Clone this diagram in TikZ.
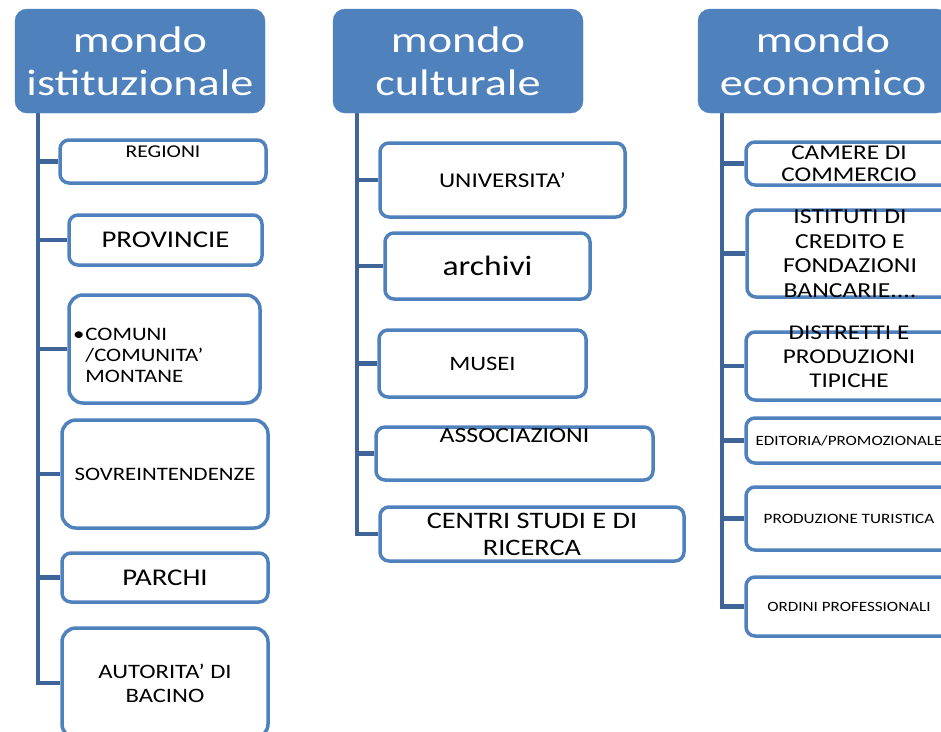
\documentclass[tikz,border=0pt]{standalone}
\usepackage{fontspec}
\setmainfont{Carlito}[FakeStretch=1.2]
\newfontfamily\headfont{Carlito}[FakeStretch=1.25]
\usepackage{xcolor}
\usepackage{tikz}
\usetikzlibrary{positioning, backgrounds}
\definecolor{headblue}{HTML}{4F81BD}
\definecolor{frameblue}{HTML}{4F81BD}
\definecolor{trunkblue}{HTML}{3F6598}
\newcommand{\txtsize}[2]{\fontsize{#1}{#2}\selectfont}

\begin{document}
\begin{tikzpicture}[
    x=1pt, y=-1pt,
    header/.style={
        rectangle, rounded corners=12pt,
        minimum width=250, minimum height=104,
        fill=headblue, draw=headblue, text=white,
        align=center, font=\headfont\txtsize{37}{43}
    },
    itembox/.style={
        rectangle, rounded corners=9pt, inner sep=1pt,
        draw=frameblue, fill=white, line width=3.5pt,
        align=center, text=black
    },
    itemtext/.style={align=center, text=black, inner sep=0pt},
    branch/.style={draw=trunkblue, line width=4.5pt}
]

\clip (0,0) rectangle (941,731);

% mondo istituzionale
\node[header] (h1) at (140,61) {mondo\\istituzionale};

\node[itembox, minimum width=206, minimum height=43] (reg) at (163,161.5) {};
\node[itemtext, font=\txtsize{18}{20}] (reg-t) at ([yshift=9.5]reg.center) {REGIONI};

\node[itembox, minimum width=193, minimum height=50, font=\txtsize{24}{28}] (prov) at (165.5,240) {PROVINCIE};

\node[itembox, rounded corners=14pt, minimum width=191, minimum height=108] (com) at (164.5,349) {};
\node[itemtext, anchor=west, align=left, font=\txtsize{19}{21}] (com-t) at ([xshift=18,yshift=-6]com.west) {\llap{\textbullet\kern1pt}COMUNI\\/COMUNITA’\\MONTANE};

\node[itembox, rounded corners=14pt, minimum width=206, minimum height=108, font=\txtsize{19}{22}] (sov) at (165,474) {SOVREINTENDENZE};

\node[itembox, minimum width=206, minimum height=49, font=\txtsize{24}{28}] (par) at (165,577.5) {PARCHI};

\node[itembox, rounded corners=14pt, minimum width=206, minimum height=110, font=\txtsize{20.5}{24}] (aut) at (165,683) {AUTORITA’ DI\\BACINO};

% mondo culturale
\node[header] (h2) at (458,61) {mondo\\culturale};

\node[itembox, minimum width=245, minimum height=74, font=\txtsize{21}{24}] (uni) at (502.5,180) {UNIVERSITA’};

\node[itembox, minimum width=205, minimum height=66, font=\txtsize{28}{30}] (arc) at (487.5,266) {archivi};

\node[itembox, minimum width=207, minimum height=67, font=\txtsize{20.5}{24}] (mus) at (482.5,363.5) {MUSEI};

\node[itembox, minimum width=277, minimum height=53] (ass) at (514.5,453.5) {};
\node[itemtext, font=\txtsize{21.5}{24}] (ass-t) at ([yshift=17.5]ass.center) {ASSOCIAZIONI};

\node[itembox, minimum width=304, minimum height=54, inner ysep=0pt, font=\txtsize{23.6}{27}] (cen) at (532,534) {CENTRI STUDI E DI\\RICERCA};

% mondo economico
\node[header] (h3) at (823,61) {mondo\\economico};

\node[itembox, minimum width=206, minimum height=43, inner ysep=0pt, font=\txtsize{21}{22}] (cam) at (849,163.5) {CAMERE DI\\COMMERCIO};

\node[itembox, minimum width=206, minimum height=87] (ist) at (850,253.5) {};
\node[itemtext, font=\txtsize{21.4}{24.5}] (ist-t) at (ist.center) {ISTITUTI DI\\CREDITO E\\FONDAZIONI\\BANCARIE....};

\node[itembox, minimum width=206, minimum height=68] (dis) at (849,366) {};
\node[itemtext, font=\txtsize{21}{24}] (dis-t) at ([yshift=9]dis.center) {DISTRETTI E\\PRODUZIONI\\TIPICHE};

\node[itembox, minimum width=206, minimum height=45, font=\txtsize{14.2}{16}] (edi) at (849,440.5) {EDITORIA/PROMOZIONALE};

\node[itembox, minimum width=206, minimum height=63, font=\txtsize{14.3}{16}] (pro) at (849,518.5) {PRODUZIONE TURISTICA};

\node[itembox, minimum width=206, minimum height=59, font=\txtsize{14.2}{16}] (ord) at (849,606.5) {ORDINI PROFESSIONALI};

% trunks and branches
\coordinate (k1) at ([xshift=23]h1.south west);
\coordinate (k2) at ([xshift=24]h2.south west);
\coordinate (k3) at ([xshift=24]h3.south west);

\begin{scope}[on background layer]
\foreach \b in {reg,prov,com,sov,par,aut}
    \draw[branch] (k1) |- (\b.west);
\foreach \b in {uni,arc,mus,ass,cen}
    \draw[branch] (k2) |- (\b.west);
\foreach \b in {cam,ist,dis,edi,pro,ord}
    \draw[branch] (k3) |- (\b.west);
\end{scope}

\end{tikzpicture}
\end{document}
